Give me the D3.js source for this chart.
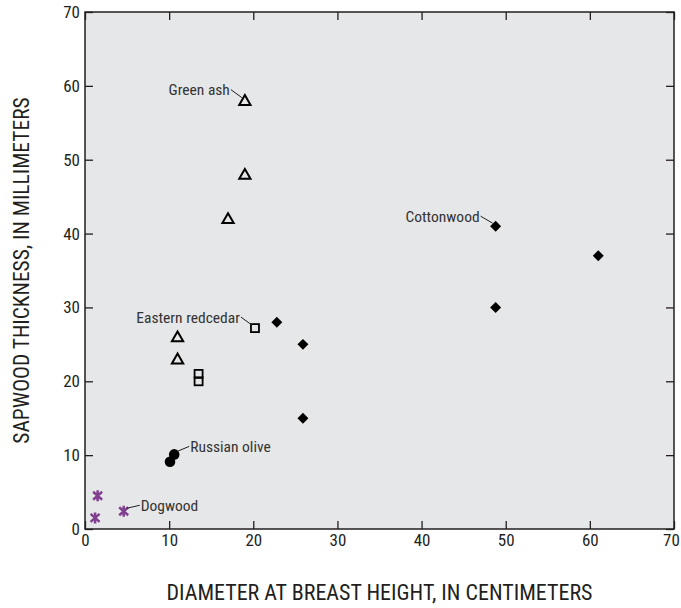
<!DOCTYPE html>
<html>
<head>
<meta charset="utf-8">
<script src="https://cdn.jsdelivr.net/npm/d3@7"></script>
<style>
  body { margin: 0; background: #fff; }
  text { font-family: "Liberation Sans Narrow", "Roboto Condensed", "Liberation Sans", sans-serif; fill: #231f20; }
</style>
</head>
<body>
<div id="chart"></div>
<script>
// tree species, [dbh cm, sapwood mm]
const greenAsh = [[19, 58], [19, 48], [17, 42], [11, 26], [11, 23]];
const redcedar = [[20.2, 27.2], [13.5, 21], [13.5, 20]];
const cottonwood = [[22.8, 28], [25.9, 25], [25.9, 15], [48.8, 41], [61, 37], [48.8, 30]];
const russianOlive = [[10.1, 9.1], [10.6, 10.1]];
const dogwood = [[1.5, 4.5], [1.2, 1.5], [4.6, 2.4]];

const xTicks = [0, 10, 20, 30, 40, 50, 60, 70];
const yTicks = [0, 10, 20, 30, 40, 50, 60, 70];

// label text, point it points to
const labels = [
    { text: "Green ash", pt: greenAsh[0], dx: -14, dy: -11, side: "left" },
    { text: "Eastern redcedar", pt: redcedar[0], dx: -14, dy: -11, side: "left" },
    { text: "Cottonwood", pt: cottonwood[3], dx: -15, dy: -10, side: "left" },
    { text: "Russian olive", pt: russianOlive[1], dx: 15, dy: -8, side: "right" },
    { text: "Dogwood", pt: dogwood[2], dx: 16, dy: -6, side: "right" }
];

const width = 681, height = 608;
const margin = { top: 12, right: 7, bottom: 79, left: 85 };

const svg = d3.select("#chart").append("svg")
    .attr("width", width)
    .attr("height", height);

const x = d3.scaleLinear().domain([0, 70]).range([margin.left, width - margin.right]);
const y = d3.scaleLinear().domain([0, 70]).range([height - margin.bottom, margin.top]);

// plot background
svg.append("rect")
    .attr("x", x(0)).attr("y", y(70))
    .attr("width", x(70) - x(0)).attr("height", y(0) - y(70))
    .attr("fill", "#e6e7e8");

// ticks pointing inward on all four sides
const tickLen = 8;
svg.append("g")
    .attr("transform", `translate(0,${y(0)})`)
    .call(d3.axisBottom(x).tickValues(xTicks).tickSizeInner(-tickLen).tickSizeOuter(0).tickPadding(4))
    .call(g => g.selectAll("text").style("font-size", "17px").attr("dy", "0.75em"))
    // last label sits at the window edge, nudge it in
    .call(g => g.selectAll("text").filter(d => d === 70).attr("dx", -3));
svg.append("g")
    .attr("transform", `translate(0,${y(70)})`)
    .call(d3.axisTop(x).tickValues(xTicks).tickSizeInner(-tickLen).tickSizeOuter(0).tickFormat(""));
svg.append("g")
    .attr("transform", `translate(${x(0)},0)`)
    .call(d3.axisLeft(y).tickValues(yTicks).tickSizeInner(-tickLen).tickSizeOuter(0).tickPadding(5))
    .call(g => g.selectAll("text").style("font-size", "17px"));
svg.append("g")
    .attr("transform", `translate(${x(70)},0)`)
    .call(d3.axisRight(y).tickValues(yTicks).tickSizeInner(-tickLen).tickSizeOuter(0).tickFormat(""));

svg.selectAll(".domain").remove();
svg.selectAll(".tick line").attr("stroke", "#231f20").attr("stroke-width", 1.3);

// frame
svg.append("rect")
    .attr("x", x(0)).attr("y", y(70))
    .attr("width", x(70) - x(0)).attr("height", y(0) - y(70))
    .attr("fill", "none")
    .attr("stroke", "#231f20")
    .attr("stroke-width", 1.5);

const marks = svg.append("g");

// green ash - open triangles
marks.selectAll(".ash").data(greenAsh).enter().append("path")
    .attr("transform", d => `translate(${x(d[0])},${y(d[1]) + 1})`)
    .attr("d", d3.symbol().type(d3.symbolTriangle).size(55))
    .attr("fill", "none").attr("stroke", "#000").attr("stroke-width", 2);

// eastern redcedar - open squares
marks.selectAll(".cedar").data(redcedar).enter().append("rect")
    .attr("x", d => x(d[0]) - 4).attr("y", d => y(d[1]) - 4)
    .attr("width", 8).attr("height", 8)
    .attr("fill", "none").attr("stroke", "#000").attr("stroke-width", 1.8);

// cottonwood - filled diamonds
marks.selectAll(".cotton").data(cottonwood).enter().append("path")
    .attr("transform", d => `translate(${x(d[0])},${y(d[1])}) rotate(45)`)
    .attr("d", d3.symbol().type(d3.symbolSquare).size(60))
    .attr("fill", "#000");

// russian olive - filled circles
marks.selectAll(".olive").data(russianOlive).enter().append("circle")
    .attr("cx", d => x(d[0])).attr("cy", d => y(d[1]))
    .attr("r", 5.3)
    .attr("fill", "#000");

// dogwood - purple asterisks
const star = "M0,-5.5V5.5M-4.5,-4L4.5,4M-4.5,4L4.5,-4";
marks.selectAll(".dog").data(dogwood).enter().append("path")
    .attr("transform", d => `translate(${x(d[0])},${y(d[1])})`)
    .attr("d", star)
    .attr("fill", "none").attr("stroke", "#803f8f").attr("stroke-width", 2.5);

// annotation labels with leader lines
const ann = svg.append("g");
labels.forEach(l => {
    const px = x(l.pt[0]), py = y(l.pt[1]);
    const lx = px + l.dx, ly = py + l.dy;
    const sx = l.side === "left" ? -1 : 1;
    ann.append("line")
        .attr("x1", px + sx * 3).attr("y1", py - 3)
        .attr("x2", lx).attr("y2", ly)
        .attr("stroke", "#231f20").attr("stroke-width", 1);
    ann.append("text")
        .attr("x", lx + sx * 1).attr("y", ly)
        .attr("dy", "0.35em")
        .attr("text-anchor", l.side === "left" ? "end" : "start")
        .style("font-size", "15.5px")
        .style("fill", "#333")
        .text(l.text);
});

// axis titles
svg.append("text")
    .attr("x", (x(0) + x(70)) / 2).attr("y", 600)
    .attr("text-anchor", "middle")
    .style("font-size", "22px")
    .text("DIAMETER AT BREAST HEIGHT, IN CENTIMETERS");

svg.append("text")
    .attr("transform", `translate(29,${(y(0) + y(70)) / 2}) rotate(-90)`)
    .attr("text-anchor", "middle")
    .style("font-size", "21.5px")
    .text("SAPWOOD THICKNESS, IN MILLIMETERS");
</script>
</body>
</html>
